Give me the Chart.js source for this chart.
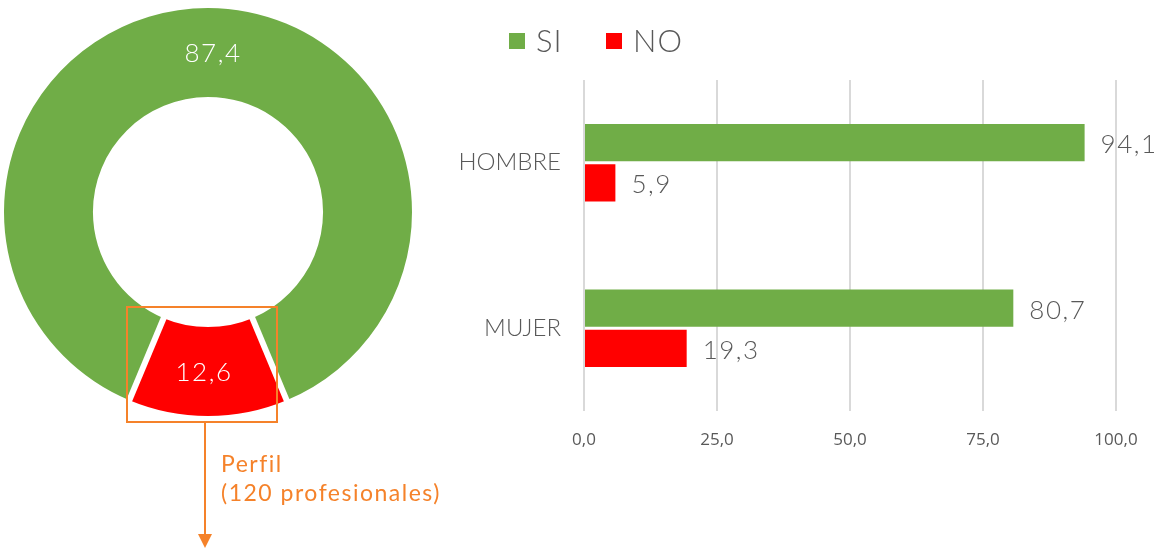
<!DOCTYPE html>
<html>
<head>
<meta charset="utf-8">
<script src="https://cdn.jsdelivr.net/npm/chart.js@4/dist/chart.umd.min.js"></script>
<style>
  html, body { margin: 0; padding: 0; background: #fff; }
  #wrap { position: relative; width: 1160px; height: 548px; overflow: hidden; }
  #donutBox { position: absolute; left: 0; top: 0; width: 420px; height: 548px; }
  #barBox { position: absolute; left: 430px; top: 0; width: 730px; height: 548px; }
  #legend { position: absolute; left: 509px; top: 21px; font-family: Lato, 'Open Sans', sans-serif; font-weight: 300; font-size: 31px; letter-spacing: 1px; color: #595959; }
  #legend span.item { position: absolute; white-space: nowrap; top: 0; }
  #legend span.sw { display: inline-block; width: 16px; height: 16px; margin-right: 11px; vertical-align: 3px; }
  #note { position: absolute; left: 221px; top: 449px; font-family: Lato, 'Open Sans', sans-serif; font-size: 23px; line-height: 29px; letter-spacing: 1.5px; color: #f5822a; white-space: nowrap; }
</style>
</head>
<body>
<div id="wrap">
  <div id="donutBox"><canvas id="donutChart"></canvas></div>
  <div id="barBox"><canvas id="barChart"></canvas></div>
  <div id="legend"></div>
  <div id="note">Perfil<br>(120 profesionales)</div>
</div>
<script>
// data
const donutLabels = ['SI', 'NO'];
const donutValues = [87.4, 12.6];
const categories = ['HOMBRE', 'MUJER'];
const siValues = [94.1, 80.7];
const noValues = [5.9, 19.3];
const xTicks = [0, 25, 50, 75, 100];

const GREEN = '#70ad47';
const RED = '#ff0000';
const ORANGE = '#f5822a';
const GREY = '#595959';

function fmt(v) {
    return Number(v).toFixed(1).replace('.', ',');
}

// html legend
const legendEl = document.getElementById('legend');
[[donutLabels[0], GREEN, 0], [donutLabels[1], RED, 97]].forEach(function(it) {
    const s = document.createElement('span');
    s.className = 'item';
    s.style.left = it[2] + 'px';
    s.innerHTML = '<span class="sw" style="background:' + it[1] + '"></span>' + it[0];
    legendEl.appendChild(s);
});

// white separators, value labels inside the doughnut + orange callout
const donutExtras = {
    id: 'donutExtras',
    afterDatasetsDraw(chart) {
        const ctx = chart.ctx;
        const meta = chart.getDatasetMeta(0);
        const nudge = [5, -4];
        ctx.save();

        // gaps between slices
        ctx.strokeStyle = '#ffffff';
        ctx.lineWidth = 6;
        meta.data.forEach(function(arc) {
            const a = arc.startAngle;
            ctx.beginPath();
            ctx.moveTo(arc.x + Math.cos(a) * (arc.innerRadius - 2), arc.y + Math.sin(a) * (arc.innerRadius - 2));
            ctx.lineTo(arc.x + Math.cos(a) * (arc.outerRadius + 2), arc.y + Math.sin(a) * (arc.outerRadius + 2));
            ctx.stroke();
        });

        ctx.fillStyle = '#ffffff';
        ctx.font = '300 26px Lato, sans-serif';
        ctx.letterSpacing = '1.5px';
        ctx.textAlign = 'center';
        ctx.textBaseline = 'middle';
        meta.data.forEach(function(arc, i) {
            const p = arc.tooltipPosition();
            ctx.fillText(fmt(donutValues[i]), p.x + nudge[i], p.y + 1);
        });

        // callout box around the NO slice
        ctx.strokeStyle = ORANGE;
        ctx.lineWidth = 2;
        ctx.strokeRect(127, 307, 150, 115);
        ctx.beginPath();
        ctx.moveTo(205, 422);
        ctx.lineTo(205, 536);
        ctx.stroke();
        ctx.fillStyle = ORANGE;
        ctx.beginPath();
        ctx.moveTo(198, 534);
        ctx.lineTo(212, 534);
        ctx.lineTo(205, 548);
        ctx.closePath();
        ctx.fill();
        ctx.restore();
    }
};

new Chart(document.getElementById('donutChart').getContext('2d'), {
    type: 'doughnut',
    data: {
        labels: donutLabels,
        datasets: [{
            data: donutValues,
            backgroundColor: [GREEN, RED],
            borderWidth: 0
        }]
    },
    options: {
        responsive: true,
        maintainAspectRatio: false,
        animation: false,
        rotation: 202.68,
        cutout: '56.4%',
        layout: { padding: { left: 4, top: 8, right: 8, bottom: 132 } },
        plugins: {
            legend: { display: false },
            tooltip: { enabled: false }
        }
    },
    plugins: [donutExtras]
});

// value labels at the end of each bar
const barLabels = {
    id: 'barLabels',
    afterDatasetsDraw(chart) {
        const ctx = chart.ctx;
        ctx.save();
        ctx.fillStyle = GREY;
        ctx.font = '300 26px Lato, sans-serif';
        ctx.letterSpacing = '1.5px';
        ctx.textAlign = 'left';
        ctx.textBaseline = 'middle';
        chart.data.datasets.forEach(function(ds, di) {
            chart.getDatasetMeta(di).data.forEach(function(bar, i) {
                ctx.fillText(fmt(ds.data[i]), bar.x + 16, bar.y + 2);
            });
        });
        ctx.restore();
    }
};

new Chart(document.getElementById('barChart').getContext('2d'), {
    type: 'bar',
    data: {
        labels: categories,
        datasets: [{
            label: 'SI',
            data: siValues,
            backgroundColor: GREEN,
            categoryPercentage: 0.485,
            barPercentage: 0.925
        }, {
            label: 'NO',
            data: noValues,
            backgroundColor: RED,
            categoryPercentage: 0.485,
            barPercentage: 0.925
        }]
    },
    options: {
        indexAxis: 'y',
        responsive: true,
        maintainAspectRatio: false,
        animation: false,
        layout: { padding: { left: 0, top: 80, right: 44, bottom: 87 } },
        plugins: {
            legend: { display: false },
            tooltip: { enabled: false }
        },
        scales: {
            x: {
                min: 0,
                max: 100,
                afterBuildTicks: function(scale) {
                    scale.ticks = xTicks.map(function(v) { return { value: v }; });
                },
                afterFit: function(scale) { scale.height = 50; },
                grid: { color: '#d9d9d9', lineWidth: 2, drawTicks: false },
                border: { display: false },
                ticks: {
                    padding: 19,
                    color: GREY,
                    font: { family: 'Open Sans', size: 17 },
                    callback: function(v) { return fmt(v); }
                }
            },
            y: {
                afterFit: function(scale) { scale.width = 154; },
                grid: { display: false, drawTicks: false },
                border: { display: false },
                ticks: {
                    padding: 23,
                    color: GREY,
                    font: { family: 'Lato', weight: '300', size: 24 }
                }
            }
        }
    },
    plugins: [barLabels]
});
</script>
</body>
</html>
